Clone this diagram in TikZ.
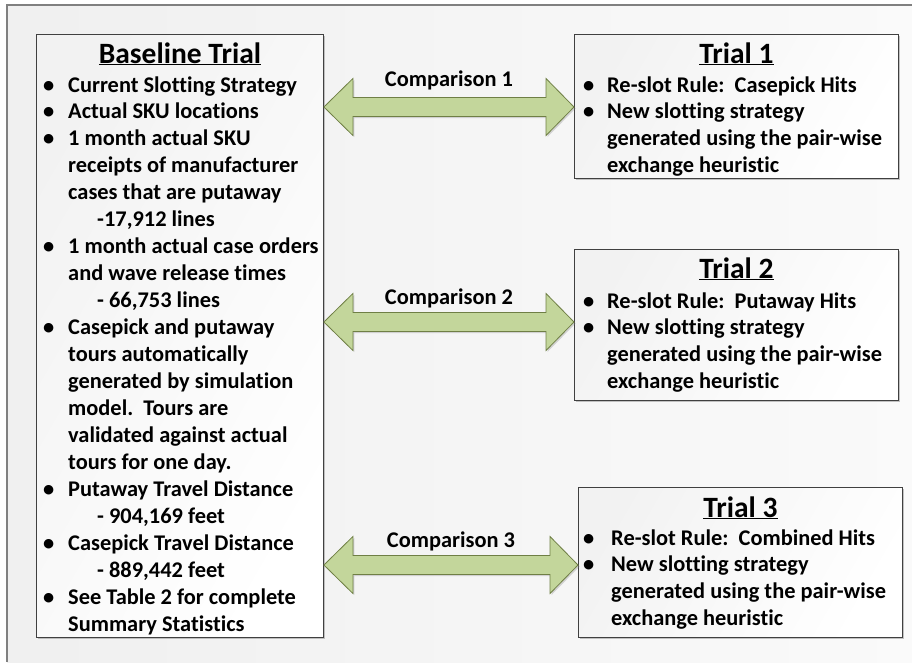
\documentclass[tikz,border=0pt]{standalone}
\usepackage{fontspec}
\setmainfont{Carlito}[Ligatures=NoCommon]
\usetikzlibrary{calc,shadows}

\definecolor{arrowgreen}{HTML}{C3D69B}
\definecolor{arrowedge}{HTML}{6F7F45}

\newcommand{\cmparrow}[2]{%
\draw [cmpshape] (#1) -- ++(29,-28.5) -- ++(0,19) -- ($(#2)+(-28,-9.5)$) -- ++(0,-19) -- (#2) -- ++(-28,28.5) -- ++(0,-19) -- ($(#1)+(29,9.5)$) -- ++(0,19) -- cycle;}

\newcommand{\bodyfont}{\fontsize{22.4}{26.95}\selectfont\bfseries}

\begin{document}
\begin{tikzpicture}[x=1pt,y=-1pt,
  trialbox/.style={draw=black!75, line width=.9pt, left color=black!5, right color=white, shading angle=60, drop shadow={shadow xshift=1.5pt, shadow yshift=-1.5pt, opacity=.45}, anchor=north west, inner sep=0},
  titletext/.style={font=\fontsize{29.5}{32}\selectfont\bfseries, anchor=base, inner sep=0},
  listtext/.style={font=\bodyfont, anchor=base west, inner sep=0},
  cmpshape/.style={fill=arrowgreen, draw=arrowedge, line width=.8pt, line join=miter, drop shadow={shadow xshift=1.5pt, shadow yshift=-1.5pt, opacity=.3}},
  cmplabel/.style={font=\bodyfont, anchor=base, inner sep=0}]

\useasboundingbox (0,0) rectangle (912,662);
\shade [left color=black!6, right color=black!2] (7,5) rectangle (912,662);
\draw [black!50, line width=1.2pt] (912,5) -- (7,5) -- (7,662);

\renewcommand{\arraystretch}{1}

\node [trialbox, minimum width=287, minimum height=603] (base) at (36,34) {};
\node [titletext] (basetitle) at ($(base.north)+(0,29)$) {\underline{Baseline Trial}};
\node [listtext] (baselist) at ($(base.north west)+(7,58)$) {%
\begin{tabular}[t]{@{}p{25pt}@{}l@{}}
\textbullet & Current Slotting Strategy\\
\textbullet & Actual SKU locations\\
\textbullet & 1 month actual SKU\\
 & receipts of manufacturer\\
 & cases that are putaway\\
 & \hspace{29pt}-17,912 lines\\
\textbullet & 1 month actual case orders\\
 & and wave release times\\
 & \hspace{29pt}- 66,753 lines\\
\textbullet & Casepick and putaway\\
 & tours automatically\\
 & generated by simulation\\
 & model.\ \ Tours are\\
 & validated against actual\\
 & tours for one day.\\
\textbullet & Putaway Travel Distance\\
 & \hspace{29pt}- 904,169 feet\\
\textbullet & Casepick Travel Distance\\
 & \hspace{29pt}- 889,442 feet\\
\textbullet & See Table 2 for complete\\
 & Summary Statistics
\end{tabular}};

\node [trialbox, minimum width=324, minimum height=144] (t1) at (574,34) {};
\node [titletext] (t1title) at ($(t1.north)+(0,29)$) {\underline{Trial 1}};
\node [listtext] (t1list) at ($(t1.north west)+(9,58)$) {%
\begin{tabular}[t]{@{}p{24pt}@{}l@{}}
\textbullet & Re-slot Rule:\ \ Casepick Hits\\
\textbullet & New slotting strategy\\
 & generated using the pair-wise\\
 & exchange heuristic
\end{tabular}};

\node [trialbox, minimum width=324, minimum height=151] (t2) at (574,249) {};
\node [titletext] (t2title) at ($(t2.north)+(0,29)$) {\underline{Trial 2}};
\node [listtext] (t2list) at ($(t2.north west)+(9,59)$) {%
\begin{tabular}[t]{@{}p{24pt}@{}l@{}}
\textbullet & Re-slot Rule:\ \ Putaway Hits\\
\textbullet & New slotting strategy\\
 & generated using the pair-wise\\
 & exchange heuristic
\end{tabular}};

\node [trialbox, minimum width=324, minimum height=150] (t3) at (578,487) {};
\node [titletext] (t3title) at ($(t3.north)+(0,30)$) {\underline{Trial 3}};
\node [listtext] (t3list) at ($(t3.north west)+(5,58)$) {%
\begin{tabular}[t]{@{}p{28pt}@{}l@{}}
\textbullet & Re-slot Rule:\ \ Combined Hits\\
\textbullet & New slotting strategy\\
 & generated using the pair-wise\\
 & exchange heuristic
\end{tabular}};

\coordinate (a1) at (base.east |- 0,107);
\coordinate (b1) at (t1.west |- 0,107);
\coordinate (a2) at (base.east |- 0,322);
\coordinate (b2) at (t2.west |- 0,322);
\coordinate (a3) at (base.east |- 0,565);
\coordinate (b3) at (t3.west |- 0,565);

\cmparrow{a1}{b1}
\cmparrow{a2}{b2}
\cmparrow{a3}{b3}

\node [cmplabel] (cmp1) at ($(a1)!.5!(b1)+(0,-21)$) {Comparison 1};
\node [cmplabel] (cmp2) at ($(a2)!.5!(b2)+(0,-18)$) {Comparison 2};
\node [cmplabel] (cmp3) at ($(a3)!.5!(b3)+(0,-18)$) {Comparison 3};

\end{tikzpicture}
\end{document}
